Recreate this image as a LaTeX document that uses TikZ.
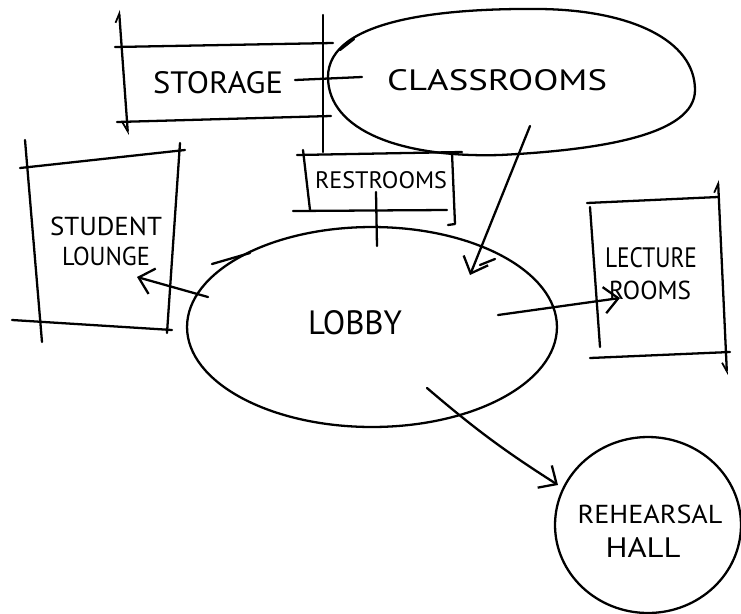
\documentclass[tikz,border=0pt]{standalone}
\usepackage{fontspec}
\setmainfont{PT Sans}
\usetikzlibrary{arrows.meta,shapes.geometric}
\newcommand\fitwh[3]{\resizebox{#1}{#2}{#3}}
\begin{document}
\begin{tikzpicture}[x=0.02cm,y=-0.02cm,
  pen/.style={line width=1.3pt,line cap=round,line join=round},
  blob/.style={pen,draw,ellipse,inner sep=0pt},
  lbl/.style={inner sep=0pt},
  arr/.style={pen,-{Straight Barb[length=8pt,width=15pt,line width=1.3pt]}},
  dimline/.style={pen,{Straight Barb[harpoon,length=5pt,width=5pt,line width=1pt]}-{Straight Barb[harpoon,swap,length=5pt,width=5pt,line width=1pt]}},
]
\fill[white] (0,0) rectangle (741,613);
\useasboundingbox (0,0) rectangle (741,613);

% classrooms: a blunt-ended egg
\draw[pen] (328,77) .. controls (328,20) and (440,8) .. (540,9)
  .. controls (630,10) and (695,40) .. (695,90)
  .. controls (695,135) and (600,150) .. (500,155)
  .. controls (400,158) and (328,130) .. (328,77);
\draw[pen] (340,50) -- (354,39);

% lobby and rehearsal hall
\node[blob,minimum width=7.4cm,minimum height=4cm] (lobby) at (372,327) {};
\node[blob,minimum width=3.72cm,minimum height=3.52cm] (hall) at (648,525) {};
% overlapping pen strokes where the lobby outline was closed
\draw[pen] (212,264) -- (250,253);
\draw[pen] (480,265) -- (495,259);

% storage box
\draw[dimline] (119,10) -- (128,135);
\draw[pen] (323,15) -- (323,152);
\draw[pen] (115,47) -- (333,43);
\draw[pen] (117,122) -- (331,116);

% restrooms box
\draw[pen] (297,155) -- (462,152);
\draw[pen] (303,150) -- (310,210);
\draw[pen] (452,153) -- (455,224) -- (448,225);
\draw[pen] (293,211) -- (447,210);

% student lounge box
\draw[pen] (25,140) -- (42,342);
\draw[pen] (180,143) -- (167,333);
\draw[pen] (20,168) -- (185,150);
\draw[pen] (12,320) -- (172,330);

% lecture rooms box
\draw[pen] (587,203) -- (718,197);
\draw[dimline] (718,180) -- (727,375);
\draw[pen] (590,207) -- (600,347);
\draw[pen] (590,358) -- (730,352);

% labels
\node[lbl] (storage) at (218,83) {\fitwh{2.6cm}{0.44cm}{STORAGE}};
\node[lbl] (clsname) at (497,80) {\fitwh{4.4cm}{0.42cm}{CLASSROOMS}};
\node[lbl] (rest) at (381,180) {\fitwh{2.64cm}{0.34cm}{RESTROOMS}};
\node[lbl] (student) at (106,226) {\fitwh{2.24cm}{0.37cm}{STUDENT}};
\node[lbl] (lounge) at (106,256) {\fitwh{1.76cm}{0.37cm}{LOUNGE}};
\node[lbl] (lobbyname) at (355,323) {\fitwh{1.88cm}{0.48cm}{LOBBY}};
\node[lbl] (lecture) at (651,258) {\fitwh{1.84cm}{0.4cm}{LECTURE}};
\node[lbl] (rooms) at (650,290) {\fitwh{1.64cm}{0.37cm}{ROOMS}};
\node[lbl] (rehearsal) at (650,514) {\fitwh{2.9cm}{0.37cm}{REHEARSAL}};
\node[lbl] (hallname) at (643,547) {\fitwh{1.5cm}{0.4cm}{HALL}};

% connector ends
\coordinate (st-out) at (295,80);
\coordinate (cls-in) at (362,77);
\coordinate (cls-out) at (530,126);
\coordinate (lobby-in) at (470,275);
\coordinate (rest-out) at (376,192);
\coordinate (lobby-top) at (377,246);
\coordinate (lobby-w) at (208,297);
\coordinate (lounge-in) at (137,277);
\coordinate (lobby-e) at (498,315);
\coordinate (lect-in) at (620,298);
\coordinate (lobby-se) at (427,388);
\coordinate (hall-in) at (558,485);

% connectors
\draw[pen] (st-out) -- (cls-in);
\draw[arr] (cls-out) -- (lobby-in);
\draw[pen] (rest-out) -- (lobby-top);
\draw[arr] (lobby-w) -- (lounge-in);
\draw[arr] (lobby-e) -- (lect-in);
\draw[arr] (lobby-se) to[bend right=4] (hall-in);
\end{tikzpicture}
\end{document}
